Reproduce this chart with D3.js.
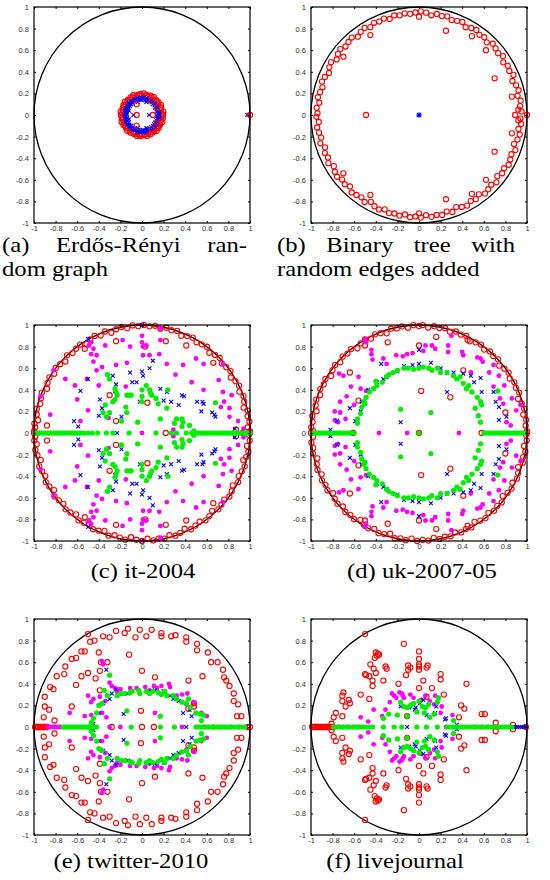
<!DOCTYPE html>
<html>
<head>
<meta charset="utf-8">
<script src="https://cdnjs.cloudflare.com/ajax/libs/d3/7.8.5/d3.min.js"></script>
<style>
  body { margin: 0; background: #fff; }
  svg { display: block; }
  .tick text { font-family: "Liberation Sans", Arial, sans-serif; font-size: 7.5px; fill: #333; }
  .cap { font-family: "Liberation Serif", "DejaVu Serif", serif; font-size: 22px; fill: #000; }
</style>
</head>
<body>
<svg id="fig" width="550" height="880"></svg>
<script>
var ticks = [-1, -0.8, -0.6, -0.4, -0.2, 0, 0.2, 0.4, 0.6, 0.8, 1];
var tickLabels = ['-1', '-0.8', '-0.6', '-0.4', '-0.2', '0', '0.2', '0.4', '0.6', '0.8', '1'];

// (a) Erdos-Renyi
var aRedRing = [[0,.195],[9,.2],[19,.19],[28,.2],[38,.195],[47,.19],[57,.2],[66,.195],[76,.19],[85,.2],[95,.195],[104,.19],[114,.2],[123,.195],[133,.19],[142,.2],[152,.195],[161,.19],[171,.2],[180,.195],[189,.19],[199,.2],[208,.195],[218,.19],[227,.2],[237,.195],[246,.19],[256,.2],[265,.195],[275,.19],[284,.2],[294,.195],[303,.19],[313,.2],[322,.195],[332,.19],[341,.2],[351,.195],
  [4,.185],[14,.18],[23,.185],[33,.18],[42,.185],[52,.18],[61,.185],[71,.18],[80,.185],[90,.18],[99,.185],[109,.18],[118,.185],[128,.18],[137,.185],[147,.18],[156,.185],[166,.18],[175,.185],[185,.18],[194,.185],[204,.18],[213,.185],[223,.18],[232,.185],[242,.18],[251,.185],[261,.18],[270,.185],[280,.18],[289,.185],[299,.18],[308,.185],[318,.18],[327,.185],[337,.18],[346,.185],[356,.18]];
var aBlueRing = [[0,.16],[8,.165],[16,.155],[25,.16],[33,.165],[41,.155],[49,.16],[57,.165],[66,.155],[74,.16],[82,.165],[90,.16],[98,.155],[106,.165],[115,.16],[123,.155],[131,.165],[139,.16],[147,.155],[156,.165],[164,.16],[172,.155],[180,.165],[188,.16],[196,.155],[205,.165],[213,.16],[221,.155],[229,.165],[237,.16],[246,.155],[254,.165],[262,.16],[270,.155],[278,.165],[286,.16],[295,.155],[303,.165],[311,.16],[319,.155],[327,.165],[336,.16],[344,.155],[352,.165],
  [4,.145],[12,.14],[21,.145],[29,.14],[37,.145],[45,.14],[53,.145],[61,.14],[70,.145],[78,.14],[86,.145],[94,.14],[102,.145],[110,.14],[119,.145],[127,.14],[135,.145],[143,.14],[151,.145],[160,.14],[168,.145],[176,.14],[184,.145],[192,.14],[200,.145],[209,.14],[217,.145],[225,.14],[233,.145],[241,.14],[250,.145],[258,.14],[266,.145],[274,.14],[282,.145],[290,.14],[299,.145],[307,.14],[315,.145],[323,.14],[331,.145],[340,.14],[348,.145],[356,.14]];
var aRed = [[-0.05,0.10],[-0.05,0],[-0.05,-0.10],[0.10,0],[0.09,0.13],[0.14,0.07],[0.14,-0.07],[0.09,-0.13],[1.0,0]];
var aBlue = [[-0.10,0.10],[-0.08,0],[-0.10,-0.10],[0.065,0],[0.975,0],[-0.12,0.04],[-0.12,-0.04],[0.12,0.07],[0.12,-0.07],[0.04,0.12],[0.04,-0.12],[-0.04,0.12],[-0.04,-0.12]];

// (b) binary tree
var bRedRing = [[2,.95],[5,.94],[8,.95],[11,.93],[14,.95],[17,.94],[20,.92],[23,.95],[26,.93],[29,.94],[32,.92],[35,.95],[38,.93],[41,.94],[44,.95],[47,.92],[50,.94],[53,.93],[56,.95],[59,.94],[62,.92],[65,.95],[68,.94],[71,.93],[74,.95],[77,.94],[80,.95],[83,.93],[86,.95],[89,.96],[92,.95],[95,.94],[98,.95],[101,.94],[104,.95],[107,.93],[110,.95],[113,.94],[116,.95],[119,.93],[122,.95],[125,.94],[128,.92],[131,.95],[134,.94],[137,.93],[140,.95],[143,.94],[146,.92],[149,.95],[152,.94],[155,.92],[158,.94],[161,.95],[164,.93],[167,.94],[170,.95],[173,.93],[176,.95],[179,.94],
  [-2,.94],[-5,.95],[-8,.93],[-11,.95],[-14,.94],[-17,.92],[-20,.95],[-23,.93],[-26,.94],[-29,.95],[-32,.93],[-35,.94],[-38,.92],[-41,.95],[-44,.93],[-47,.94],[-50,.95],[-53,.92],[-56,.94],[-59,.93],[-62,.95],[-65,.94],[-68,.92],[-71,.95],[-74,.93],[-77,.95],[-80,.94],[-83,.95],[-86,.93],[-89,.95],[-92,.94],[-95,.95],[-98,.93],[-101,.95],[-104,.94],[-107,.95],[-110,.93],[-113,.95],[-116,.94],[-119,.92],[-122,.95],[-125,.93],[-128,.94],[-131,.95],[-134,.92],[-137,.94],[-140,.93],[-143,.95],[-146,.94],[-149,.92],[-152,.95],[-155,.93],[-158,.94],[-161,.92],[-164,.95],[-167,.93],[-170,.94],[-173,.95],[-176,.93],[-179,.95]];
var bRed = [[-0.49,0],[0.25,0.78],[0.25,-0.78],[-0.45,0.74],[-0.45,-0.74],[0.49,0.73],[0.49,-0.73],[0.62,0.60],[0.62,-0.60],[0.70,0.34],[0.70,-0.34],[0.86,0.17],[0.86,-0.17],[0.89,0],[-0.70,0.54],[-0.70,-0.54],[0,0.91],[0,-0.91],[1.0,0],[0.92,0.05],[0.92,-0.05]];
var bBlue = [[0,0]];

// (c) it-2004
var cRedRing = [[1,1],[3,.98],[6,1],[9,.99],[12,1],[14,.97],[17,.99],[20,1],[23,.98],[26,1],[29,.99],[32,.97],[35,1],[38,.99],[41,.98],[44,1],[47,.99],[50,.97],[53,1],[56,.99],[59,.98],[62,1],[65,.99],[68,.97],[71,1],[74,.99],[77,1],[80,.98],[83,1],[86,.99],[89,1],[92,.99],[95,1],[98,.98],[101,1],[104,.99],[107,.97],[110,1],[113,.98],[116,1],[119,.99],[122,.97],[125,1],[128,.99],[131,.98],[134,1],[137,.97],[140,.99],[143,1],[146,.98],[149,1],[152,.99],[155,.97],[158,1],[161,.99],[164,.98],[167,1],[170,.99],[173,.97],[175,1],[177,.99],[179,1],
  [-1,.99],[-4,1],[-7,.98],[-10,1],[-13,.99],[-15,.97],[-18,1],[-21,.99],[-24,.98],[-27,1],[-30,.97],[-33,.99],[-36,1],[-39,.98],[-42,.99],[-45,1],[-48,.97],[-51,.99],[-54,1],[-57,.98],[-60,.99],[-63,1],[-66,.97],[-69,.99],[-72,1],[-75,.98],[-78,1],[-81,.99],[-84,1],[-87,.98],[-90,1],[-93,.99],[-96,.97],[-99,1],[-102,.99],[-105,.98],[-108,1],[-111,.97],[-114,.99],[-117,1],[-120,.98],[-123,.99],[-126,1],[-129,.97],[-132,.99],[-135,1],[-138,.98],[-141,.99],[-144,1],[-147,.97],[-150,.99],[-153,1],[-156,.98],[-159,.99],[-162,1],[-165,.97],[-168,.99],[-171,1],[-174,.98],[-176,1],[-178,.99]];
var cRed = [[-0.24,0.85],[0.22,0.85],[0.41,0.81],[0.66,0.65],[-0.30,0.35],[0.05,0.28],[-0.24,0.11],[-0.88,0.07],[0.87,0.03],[-0.53,0.78],[0.03,0.80],
  [-0.24,-0.85],[0.22,-0.85],[0.41,-0.81],[0.66,-0.65],[-0.30,-0.35],[0.05,-0.28],[-0.24,-0.11],[-0.88,-0.07],[0.87,-0.03],[-0.53,-0.78],[0.03,-0.80]];
var cRedAxis = [-1, 0.22, 0.93, 1];
var cMag = [[-0.47,0.84],[-0.49,0.81],[-0.45,0.78],[-0.42,0.72],[-0.47,0.73],[-0.34,0.81],[-0.18,0.86],[-0.11,0.80],[0,0.90],[0,0.84],[0.01,0.80],[0.04,0.81],[0.01,0.72],[0.07,0.72],[0.16,0.73],[0.17,0.86],[0.23,0.64],[0.38,0.63],[0.50,0.69],[0.57,0.64],[-0.24,0.63],[-0.37,0.61],[-0.42,0.58],[-0.14,0.65],[-0.45,0.66],[-0.71,0.50],[-0.51,0.50],[-0.62,0.44],[-0.40,0.44],[-0.15,0.43],[0.31,0.54],[0.46,0.47],[0.57,0.40],[0.71,0.49],[0.75,0.38],[0.83,0.35],[0.76,0.29],[-0.60,0.31],[0.73,0.24],[0.81,0.23],[0.81,0.15],[0.89,0.11],[-0.50,0.21],[-0.85,0.17],[-0.31,0.14],[0.29,0.03],[-0.57,0.11],[-0.94,0.34],[0.17,0.97],[0.75,0.64],[-0.82,0.58],[0.94,0.04],
  [-0.47,-0.84],[-0.49,-0.81],[-0.45,-0.78],[-0.42,-0.72],[-0.47,-0.73],[-0.34,-0.81],[-0.18,-0.86],[-0.11,-0.80],[0,-0.90],[0,-0.84],[0.01,-0.80],[0.04,-0.81],[0.01,-0.72],[0.07,-0.72],[0.16,-0.73],[0.17,-0.86],[0.23,-0.64],[0.38,-0.63],[0.50,-0.69],[0.57,-0.64],[-0.24,-0.63],[-0.37,-0.61],[-0.42,-0.58],[-0.14,-0.65],[-0.45,-0.66],[-0.71,-0.50],[-0.51,-0.50],[-0.62,-0.44],[-0.40,-0.44],[-0.15,-0.43],[0.31,-0.54],[0.46,-0.47],[0.57,-0.40],[0.71,-0.49],[0.75,-0.38],[0.83,-0.35],[0.76,-0.29],[-0.60,-0.31],[0.73,-0.24],[0.81,-0.23],[0.81,-0.15],[0.89,-0.11],[-0.50,-0.21],[-0.85,-0.17],[-0.31,-0.14],[0.29,-0.03],[-0.57,-0.11],[-0.94,-0.34],[0.17,-0.97],[0.75,-0.64],[-0.82,-0.58],[0.94,-0.04]];
var cMagAxis = [-0.95, 0];
var cBlue = [[0,1.0],[-0.50,0.87],[-0.50,0.50],[-0.57,0.39],[-0.63,0.11],[-0.59,0.06],[-0.39,0.31],[-0.37,0.23],[-0.40,0.16],[-0.27,0.53],[-0.24,0.45],[-0.25,0.39],[-0.11,0.56],[-0.09,0.47],[-0.05,0.47],[0,0.57],[0.01,0.53],[0.07,0.60],[0.10,0.67],[0.17,0.41],[0.23,0.38],[0.20,0.30],[0.27,0.29],[0.34,0.26],[0.37,0.35],[0.39,0.34],[0.51,0.29],[0.56,0.29],[0.57,0.27],[0.55,0.20],[0.65,0.19],[0.67,0.17],[0.68,0.15],[-0.19,0.15],[-0.02,0.29],[0.86,0.04],
  [0,-1.0],[-0.50,-0.87],[-0.50,-0.50],[-0.57,-0.39],[-0.63,-0.11],[-0.59,-0.06],[-0.39,-0.31],[-0.37,-0.23],[-0.40,-0.16],[-0.27,-0.53],[-0.24,-0.45],[-0.25,-0.39],[-0.11,-0.56],[-0.09,-0.47],[-0.05,-0.47],[0,-0.57],[0.01,-0.53],[0.07,-0.60],[0.10,-0.67],[0.17,-0.41],[0.23,-0.38],[0.20,-0.30],[0.27,-0.29],[0.34,-0.26],[0.37,-0.35],[0.39,-0.34],[0.51,-0.29],[0.56,-0.29],[0.57,-0.27],[0.55,-0.20],[0.65,-0.19],[0.67,-0.17],[0.68,-0.15],[-0.19,-0.15],[-0.02,-0.29],[0.86,-0.04]];
var cBlueAxis = [-0.96, -0.23];
var cGreen = [[-0.32,0.54],[-0.30,0.50],[-0.25,0.41],[-0.24,0.38],[-0.23,0.35],[-0.25,0.31],[-0.27,0.29],[-0.14,0.35],[-0.12,0.35],[-0.10,0.35],[0,0.40],[0,0.34],[0,0.29],[0.07,0.40],[0.08,0.37],[0.09,0.35],[0.13,0.32],[0.15,0.27],[0.04,0.44],[-0.34,0.26],[-0.36,0.19],[-0.30,0.19],[-0.33,0.15],[-0.15,0.24],[-0.14,0.19],[-0.19,0.11],[-0.04,0.10],[0.23,0.23],[0.24,0.40],[0.37,0.13],[0.38,0.10],[0.30,0.09],[0.48,0.02],[0.68,0.28],[0.17,0.13],[0.32,0.13],[0.44,0.07],[0.37,0.06],
  [-0.32,-0.54],[-0.30,-0.50],[-0.25,-0.41],[-0.24,-0.38],[-0.23,-0.35],[-0.25,-0.31],[-0.27,-0.29],[-0.14,-0.35],[-0.12,-0.35],[-0.10,-0.35],[0,-0.40],[0,-0.34],[0,-0.29],[0.07,-0.40],[0.08,-0.37],[0.09,-0.35],[0.13,-0.32],[0.15,-0.27],[0.04,-0.44],[-0.34,-0.26],[-0.36,-0.19],[-0.30,-0.19],[-0.33,-0.15],[-0.15,-0.24],[-0.14,-0.19],[-0.19,-0.11],[-0.04,-0.10],[0.23,-0.23],[0.24,-0.40],[0.37,-0.13],[0.38,-0.10],[0.30,-0.09],[0.48,-0.02],[0.68,-0.28],[0.17,-0.13],[0.32,-0.13],[0.44,-0.07],[0.37,-0.06]];
var cGreenAxis = [-0.99,-0.97,-0.95,-0.93,-0.91,-0.89,-0.87,-0.85,-0.83,-0.81,-0.79,-0.77,-0.75,-0.73,-0.71,-0.69,-0.67,-0.65,-0.63,-0.61,-0.59,-0.57,-0.54,-0.50,-0.46,-0.41,-0.33,-0.27,-0.12,0.13,0.27,0.32,0.41,0.46,0.50,0.52,0.54,0.56,0.58,0.60,0.62,0.64,0.66,0.68,0.70,0.72,0.74,0.76,0.78,0.80,0.82,0.84,0.86,0.88,0.90,0.92,0.94,0.96,0.98,1.0];

// (d) uk-2007-05
var dRedRing = [[1,1],[4,.99],[7,1],[10,.98],[13,1],[16,.99],[19,.97],[22,1],[25,.99],[28,1],[31,.98],[34,1],[37,.99],[40,.97],[43,1],[46,.99],[49,1],[52,.98],[55,1],[58,.99],[61,.97],[64,1],[67,.99],[70,1],[73,.98],[76,1],[79,.99],[82,1],[85,.98],[88,1],[90,.99],[93,1],[96,.98],[99,1],[102,.99],[105,1],[108,.97],[111,.99],[114,1],[117,.98],[120,1],[123,.99],[126,.97],[129,1],[132,.99],[135,1],[138,.98],[141,1],[144,.99],[147,.97],[150,1],[153,.99],[156,1],[159,.98],[162,1],[165,.99],[168,.97],[171,1],[174,.99],[177,1],[179,.98],
  [-1,.99],[-4,1],[-7,.98],[-10,1],[-13,.99],[-16,1],[-19,.97],[-22,.99],[-25,1],[-28,.98],[-31,1],[-34,.99],[-37,.97],[-40,1],[-43,.99],[-46,1],[-49,.98],[-52,1],[-55,.99],[-58,.97],[-61,1],[-64,.99],[-67,1],[-70,.98],[-73,1],[-76,.99],[-79,1],[-82,.98],[-85,1],[-88,.99],[-91,1],[-94,.98],[-97,1],[-100,.99],[-103,1],[-106,.97],[-109,.99],[-112,1],[-115,.98],[-118,1],[-121,.99],[-124,.97],[-127,1],[-130,.99],[-133,1],[-136,.98],[-139,1],[-142,.99],[-145,.97],[-148,1],[-151,.99],[-154,1],[-157,.98],[-160,1],[-163,.99],[-166,.97],[-169,1],[-172,.99],[-175,1],[-178,.98]];
var dRed = [[-0.64,0.56],[-0.29,0.84],[-0.50,0.81],[0,0.81],[0.16,0.89],[0.45,0.86],[0.02,0.39],[0.29,0.33],[0.41,0.58],[-0.56,0.30],[0.80,0.19],
  [-0.64,-0.56],[-0.29,-0.84],[-0.50,-0.81],[0,-0.81],[0.16,-0.89],[0.45,-0.86],[0.02,-0.39],[0.29,-0.33],[0.41,-0.58],[-0.56,-0.30],[0.80,-0.19]];
var dRedAxis = [-1, -0.61, 0, 0.58, 1];
var dMag = [[-0.50,0.87],[-0.49,0.84],[-0.44,0.77],[-0.44,0.73],[-0.43,0.68],[-0.21,0.72],[-0.15,0.71],[-0.11,0.73],[-0.06,0.74],[0.04,0.76],[0.06,0.81],[0.12,0.81],[0.15,0.78],[0.27,0.81],[0.30,0.90],[0.27,0.75],[0.40,0.75],[0.41,0.72],[0.54,0.70],[0.57,0.69],[0.59,0.66],[0.69,0.63],[-0.30,0.64],[-0.33,0.69],[-0.74,0.55],[-0.70,0.53],[-0.56,0.52],[-0.63,0.43],[-0.54,0.41],[-0.49,0.39],[-0.67,0.34],[-0.73,0.29],[-0.60,0.26],[-0.78,0.20],[-0.73,0.19],[-0.68,0.13],[-0.78,0.12],[-0.75,0.10],[0.48,0.56],[0.65,0.56],[0.74,0.53],[0.79,0.44],[0.69,0.43],[0.75,0.32],[0.86,0.32],[0.78,0.27],[0.90,0.21],[0.94,0.26],[0.81,0.10],[0.85,0.07],
  [-0.50,-0.87],[-0.49,-0.84],[-0.44,-0.77],[-0.44,-0.73],[-0.43,-0.68],[-0.21,-0.72],[-0.15,-0.71],[-0.11,-0.73],[-0.06,-0.74],[0.04,-0.76],[0.06,-0.81],[0.12,-0.81],[0.15,-0.78],[0.27,-0.81],[0.30,-0.90],[0.27,-0.75],[0.40,-0.75],[0.41,-0.72],[0.54,-0.70],[0.57,-0.69],[0.59,-0.66],[0.69,-0.63],[-0.30,-0.64],[-0.33,-0.69],[-0.74,-0.55],[-0.70,-0.53],[-0.56,-0.52],[-0.63,-0.43],[-0.54,-0.41],[-0.49,-0.39],[-0.67,-0.34],[-0.73,-0.29],[-0.60,-0.26],[-0.78,-0.20],[-0.73,-0.19],[-0.68,-0.13],[-0.78,-0.12],[-0.75,-0.10],[0.48,-0.56],[0.65,-0.56],[0.74,-0.53],[0.79,-0.44],[0.69,-0.43],[0.75,-0.32],[0.86,-0.32],[0.78,-0.27],[0.90,-0.21],[0.94,-0.26],[0.81,-0.10],[0.85,-0.07]];
var dMagAxis = [-0.37, -0.11, 0.37];
var dBlue = [[-0.82,0.03],[-0.76,0.11],[-0.64,0.23],[-0.59,0.11],[-0.54,0.20],[-0.53,0.29],[-0.47,0.40],[-0.39,0.47],[-0.33,0.50],[-0.30,0.52],[-0.35,0.64],[-0.20,0.57],[-0.14,0.62],[-0.06,0.63],[0,0.64],[0.11,0.65],[0,0.77],[0.20,0.60],[0.26,0.56],[0.32,0.56],[0.41,0.55],[0.48,0.53],[0.57,0.51],[0.51,0.47],[0.26,0.38],[0.58,0.38],[0.69,0.38],[0.71,0.29],[0.74,0.24],[0.74,0.12],[0.81,0.15],[-0.17,0.10],
  [-0.82,-0.03],[-0.76,-0.11],[-0.64,-0.23],[-0.59,-0.11],[-0.54,-0.20],[-0.53,-0.29],[-0.47,-0.40],[-0.39,-0.47],[-0.33,-0.50],[-0.30,-0.52],[-0.35,-0.64],[-0.20,-0.57],[-0.14,-0.62],[-0.06,-0.63],[0,-0.64],[0.11,-0.65],[0,-0.77],[0.20,-0.60],[0.26,-0.56],[0.32,-0.56],[0.41,-0.55],[0.48,-0.53],[0.57,-0.51],[0.51,-0.47],[0.26,-0.38],[0.58,-0.38],[0.69,-0.38],[0.71,-0.29],[0.74,-0.24],[0.74,-0.12],[0.81,-0.15],[-0.17,-0.10]];
var dGreen = [[-0.57,0.09],[-0.57,0.13],[-0.54,0.18],[-0.53,0.24],[-0.51,0.29],[-0.49,0.33],[-0.46,0.38],[-0.42,0.41],[-0.39,0.44],[-0.34,0.47],[-0.30,0.52],[-0.24,0.56],[-0.20,0.58],[-0.14,0.60],[-0.10,0.60],[-0.05,0.59],[0,0.60],[0.04,0.61],[0.09,0.60],[0.12,0.58],[0.17,0.60],[0.20,0.56],[0.26,0.56],[0.32,0.53],[0.38,0.52],[0.41,0.46],[0.44,0.41],[0.49,0.38],[0.54,0.33],[0.57,0.29],[0.58,0.26],[0.52,0.23],[0.55,0.16],[0.57,0.10],[-0.17,0.22],[0.11,0.19],[0.73,0.39],[-0.40,0.48],[-0.28,0.54],[0.35,0.50],[0.46,0.44],[-0.50,0.27],
  [-0.57,-0.09],[-0.57,-0.13],[-0.54,-0.18],[-0.53,-0.24],[-0.51,-0.29],[-0.49,-0.33],[-0.46,-0.38],[-0.42,-0.41],[-0.39,-0.44],[-0.34,-0.47],[-0.30,-0.52],[-0.24,-0.56],[-0.20,-0.58],[-0.14,-0.60],[-0.10,-0.60],[-0.05,-0.59],[0,-0.60],[0.04,-0.61],[0.09,-0.60],[0.12,-0.58],[0.17,-0.60],[0.20,-0.56],[0.26,-0.56],[0.32,-0.53],[0.38,-0.52],[0.41,-0.46],[0.44,-0.41],[0.49,-0.38],[0.54,-0.33],[0.57,-0.29],[0.58,-0.26],[0.52,-0.23],[0.55,-0.16],[0.57,-0.10],[-0.17,-0.22],[0.11,-0.19],[0.73,-0.39],[-0.40,-0.48],[-0.28,-0.54],[0.35,-0.50],[0.46,-0.44],[-0.50,-0.27]];
var dGreenAxis = [-0.99,-0.97,-0.95,-0.93,-0.91,-0.89,-0.87,-0.85,-0.83,-0.81,-0.79,-0.77,-0.75,-0.73,-0.71,-0.69,-0.67,-0.65,-0.63,-0.60,0,0.60,0.62,0.64,0.66,0.68,0.70,0.72,0.74,0.76,0.78,0.80,0.82,0.84,0.86,0.88,0.90,0.92,0.94,0.96,0.98];

// (e) twitter-2010
var eRed = [[-0.50,0.86],[-0.36,0.84],[-0.30,0.83],[-0.24,0.89],[-0.16,0.87],[-0.13,0.91],[-0.06,0.83],[-0.02,0.90],[0.04,0.84],[0.09,0.90],[0.18,0.87],[0.18,0.84],[0.27,0.84],[0.31,0.85],[0.41,0.83],[0.41,0.79],[0.51,0.77],[0.51,0.71],[0.61,0.69],[0.64,0.60],[0.70,0.60],[0.75,0.53],[0.76,0.46],[0.78,0.43],[0.81,0.38],[0.85,0.31],[0.85,0.24],[0.89,0.21],[0.88,0.10],[0.92,0.10],[0.56,0.47],[0.43,0.43],[0.12,0.46],[0,0.52],[-0.12,0.67],[-0.40,0.69],[-0.44,0.80],[-0.48,0.79],[-0.56,0.70],[-0.53,0.70],[-0.65,0.63],[-0.61,0.64],[-0.71,0.56],[-0.72,0.49],[-0.79,0.47],[-0.56,0.47],[-0.50,0.50],[-0.43,0.45],[-0.39,0.52],[-0.38,0.60],[-0.32,0.60],[-0.61,0.39],[-0.85,0.37],[-0.82,0.35],[-0.90,0.28],[-0.90,0.19],[-0.86,0.16],[-0.65,0.19],[-0.91,0.09],[-0.81,0.06],[-0.39,0.34],[-0.01,0.15],[0.48,0.22],[0.48,0.19],[0.43,0.17],
  [-0.50,-0.86],[-0.36,-0.84],[-0.30,-0.83],[-0.24,-0.89],[-0.16,-0.87],[-0.13,-0.91],[-0.06,-0.83],[-0.02,-0.90],[0.04,-0.84],[0.09,-0.90],[0.18,-0.87],[0.18,-0.84],[0.27,-0.84],[0.31,-0.85],[0.41,-0.83],[0.41,-0.79],[0.51,-0.77],[0.51,-0.71],[0.61,-0.69],[0.64,-0.60],[0.70,-0.60],[0.75,-0.53],[0.76,-0.46],[0.78,-0.43],[0.81,-0.38],[0.85,-0.31],[0.85,-0.24],[0.89,-0.21],[0.88,-0.10],[0.92,-0.10],[0.56,-0.47],[0.43,-0.43],[0.12,-0.46],[0,-0.52],[-0.12,-0.67],[-0.40,-0.69],[-0.44,-0.80],[-0.48,-0.79],[-0.56,-0.70],[-0.53,-0.70],[-0.65,-0.63],[-0.61,-0.64],[-0.71,-0.56],[-0.72,-0.49],[-0.79,-0.47],[-0.56,-0.47],[-0.50,-0.50],[-0.43,-0.45],[-0.39,-0.52],[-0.38,-0.60],[-0.32,-0.60],[-0.61,-0.39],[-0.85,-0.37],[-0.82,-0.35],[-0.90,-0.28],[-0.90,-0.19],[-0.86,-0.16],[-0.65,-0.19],[-0.91,-0.09],[-0.81,-0.06],[-0.39,-0.34],[-0.01,-0.15],[0.48,-0.22],[0.48,-0.19],[0.43,-0.17]];
var eRedAxis = [-0.99,-0.98,-0.97,-0.96,-0.95,-0.94,-0.93,-0.92,-0.91,-0.90,-0.89,-0.88,-0.28,0,0.11,0.98,1.0];
var eMag = [[-0.37,0.61],[-0.36,0.58],[-0.30,0.41],[-0.28,0.38],[-0.25,0.36],[-0.23,0.33],[-0.50,0.29],[-0.47,0.23],[-0.39,0.28],[-0.38,0.21],[-0.34,0.24],[-0.67,0.13],[-0.53,0.10],[-0.47,0.11],[-0.37,0.13],[-0.33,0.09],[-0.11,0.36],[-0.05,0.36],[0.03,0.37],[0.11,0.38],[0.14,0.36],[0.18,0.38],[0.25,0.40],[0.26,0.37],[0.37,0.30],[0.32,0.29],[0.41,0.21],[0.48,0.23],[0.55,0.13],[0.60,0.10],[0.12,0.13],[-0.45,0.26],[-0.20,0.35],[0.07,0.34],[0.42,0.31],
  [-0.37,-0.61],[-0.36,-0.58],[-0.30,-0.41],[-0.28,-0.38],[-0.25,-0.36],[-0.23,-0.33],[-0.50,-0.29],[-0.47,-0.23],[-0.39,-0.28],[-0.38,-0.21],[-0.34,-0.24],[-0.67,-0.13],[-0.53,-0.10],[-0.47,-0.11],[-0.37,-0.13],[-0.33,-0.09],[-0.11,-0.36],[-0.05,-0.36],[0.03,-0.37],[0.11,-0.38],[0.14,-0.36],[0.18,-0.38],[0.25,-0.40],[0.26,-0.37],[0.37,-0.30],[0.32,-0.29],[0.41,-0.21],[0.48,-0.23],[0.55,-0.13],[0.60,-0.10],[0.12,-0.13],[-0.45,-0.26],[-0.20,-0.35],[0.07,-0.34],[0.42,-0.31]];
var eMagAxis = [-0.87,-0.85,-0.83,-0.81,-0.79,-0.77,-0.75,-0.30,-0.20,0.37,0.58,0.66,0.74,0.82,0.90];
var eBlue = [[-0.33,0.53],[-0.24,0.35],[-0.30,0.26],[-0.36,0.22],[-0.40,0.13],[-0.45,0.03],[-0.13,0.31],[0.07,0.33],[0.20,0.33],[0.26,0.29],[0.29,0.26],[0.34,0.24],[0.44,0.16],[0.46,0.10],[0.38,0.13],[-0.17,0.12],[-0.28,0.31],[0.12,0.34],
  [-0.33,-0.53],[-0.24,-0.35],[-0.30,-0.26],[-0.36,-0.22],[-0.40,-0.13],[-0.45,-0.03],[-0.13,-0.31],[0.07,-0.33],[0.20,-0.33],[0.26,-0.29],[0.29,-0.26],[0.34,-0.24],[0.44,-0.16],[0.46,-0.10],[0.38,-0.13],[-0.17,-0.12],[-0.28,-0.31],[0.12,-0.34]];
var eBlueAxis = [-0.44, 0.41, 0.64, 0.72, 0.84, 0.88, 0.93, 0.96];
var eGreen = [[-0.30,0.48],[-0.35,0.34],[-0.32,0.29],[-0.37,0.22],[-0.40,0.20],[-0.42,0.13],[-0.45,0.08],[-0.47,0.04],[-0.23,0.29],[-0.19,0.31],[-0.16,0.31],[-0.11,0.32],[-0.09,0.33],[-0.03,0.34],[-0.02,0.31],[0.04,0.33],[0.07,0.31],[0.10,0.33],[0.15,0.32],[0.18,0.30],[0.21,0.33],[0.23,0.29],[0.29,0.29],[0.32,0.26],[0.37,0.23],[0.41,0.22],[0.50,0.13],[0.54,0.12],[0.57,0.11],[0.55,0.06],[0.17,0.10],[-0.14,0.15],[0.45,0.18],[0.43,0.26],
  [-0.30,-0.48],[-0.35,-0.34],[-0.32,-0.29],[-0.37,-0.22],[-0.40,-0.20],[-0.42,-0.13],[-0.45,-0.08],[-0.47,-0.04],[-0.23,-0.29],[-0.19,-0.31],[-0.16,-0.31],[-0.11,-0.32],[-0.09,-0.33],[-0.03,-0.34],[-0.02,-0.31],[0.04,-0.33],[0.07,-0.31],[0.10,-0.33],[0.15,-0.32],[0.18,-0.30],[0.21,-0.33],[0.23,-0.29],[0.29,-0.29],[0.32,-0.26],[0.37,-0.23],[0.41,-0.22],[0.50,-0.13],[0.54,-0.12],[0.57,-0.11],[0.55,-0.06],[0.17,-0.10],[-0.14,-0.15],[0.45,-0.18],[0.43,-0.26]];
var eGreenAxis = [-0.73,-0.71,-0.69,-0.67,-0.65,-0.63,-0.61,-0.59,-0.57,-0.55,-0.53,-0.51,-0.49,-0.47,-0.45,-0.42,-0.10,0.17,0.30,0.50,0.53,0.56,0.60,0.62,0.65,0.67,0.69,0.71,0.73,0.76,0.78,0.80,0.83,0.86,0.89,0.92,0.95];

// (f) livejournal
var fRed = [[-0.50,0.86],[-0.14,0.77],[-0.40,0.69],[-0.39,0.66],[-0.41,0.64],[-0.37,0.67],[-0.38,0.68],[-0.45,0.58],[-0.42,0.54],[-0.40,0.50],[-0.31,0.56],[-0.30,0.54],[-0.49,0.48],[-0.46,0.47],[-0.50,0.49],[-0.43,0.43],[-0.43,0.38],[-0.33,0.43],[-0.19,0.40],[-0.12,0.48],[-0.10,0.57],[-0.10,0.53],[-0.08,0.55],[0,0.70],[0,0.63],[0,0.58],[0,0.56],[0,0.53],[0.04,0.43],[0,0.36],[0.07,0.55],[0.08,0.57],[0.20,0.49],[0.20,0.44],[0.23,0.30],[0.12,0.36],[0.07,0.28],[0.44,0.40],[-0.54,0.30],[-0.70,0.32],[-0.71,0.29],[-0.71,0.24],[-0.65,0.25],[-0.64,0.22],[-0.68,0.19],[-0.46,0.26],[-0.77,0.13],[-0.79,0.09],[-0.71,0.10],[-0.81,0.03],[0.39,0.20],[0.42,0.17],[0.37,0.09],[0.58,0.12],[0.61,0.12],[0.71,0.04],[0.87,0.02],[-0.11,0.10],
  [-0.50,-0.86],[-0.14,-0.77],[-0.40,-0.69],[-0.39,-0.66],[-0.41,-0.64],[-0.37,-0.67],[-0.38,-0.68],[-0.45,-0.58],[-0.42,-0.54],[-0.40,-0.50],[-0.31,-0.56],[-0.30,-0.54],[-0.49,-0.48],[-0.46,-0.47],[-0.50,-0.49],[-0.43,-0.43],[-0.43,-0.38],[-0.33,-0.43],[-0.19,-0.40],[-0.12,-0.48],[-0.10,-0.57],[-0.10,-0.53],[-0.08,-0.55],[0,-0.70],[0,-0.63],[0,-0.58],[0,-0.56],[0,-0.53],[0.04,-0.43],[0,-0.36],[0.07,-0.55],[0.08,-0.57],[0.20,-0.49],[0.20,-0.44],[0.23,-0.30],[0.12,-0.36],[0.07,-0.28],[0.44,-0.40],[-0.54,-0.30],[-0.70,-0.32],[-0.71,-0.29],[-0.71,-0.24],[-0.65,-0.25],[-0.64,-0.22],[-0.68,-0.19],[-0.46,-0.26],[-0.77,-0.13],[-0.79,-0.09],[-0.71,-0.10],[-0.81,-0.03],[0.39,-0.20],[0.42,-0.17],[0.37,-0.09],[0.58,-0.12],[0.61,-0.12],[0.71,-0.04],[0.87,-0.02],[-0.11,-0.10]];
var fRedAxis = [-0.99,-0.98,-0.97,-0.96,-0.95,-0.94,-0.93,-0.92,-0.91,-0.90,-0.89,-0.88,-0.87,-0.86,-0.85,-0.84,-0.82,-0.80,0.99];
var fMag = [[-0.25,0.31],[-0.16,0.31],[-0.15,0.29],[-0.21,0.27],[-0.14,0.27],[-0.05,0.27],[-0.27,0.23],[-0.31,0.16],[-0.42,0.16],[-0.34,0.10],[-0.54,0.09],[-0.47,0.05],[0.06,0.29],[0.15,0.29],[0.14,0.21],[0.21,0.19],[0.20,0.13],[0.31,0.11],[-0.18,0.32],[-0.23,0.29],[0.02,0.25],[-0.08,0.30],[0.10,0.24],
  [-0.25,-0.31],[-0.16,-0.31],[-0.15,-0.29],[-0.21,-0.27],[-0.14,-0.27],[-0.05,-0.27],[-0.27,-0.23],[-0.31,-0.16],[-0.42,-0.16],[-0.34,-0.10],[-0.54,-0.09],[-0.47,-0.05],[0.06,-0.29],[0.15,-0.29],[0.14,-0.21],[0.21,-0.19],[0.20,-0.13],[0.31,-0.11],[-0.18,-0.32],[-0.23,-0.29],[0.02,-0.25],[-0.08,-0.30],[0.10,-0.24]];
var fMagAxis = [-0.78, -0.74, -0.70, -0.66, -0.60, -0.56, 0.25, 0.52, 0.58, 0.64, 0.70];
var fBlue = [[-0.17,0.19],[-0.09,0.18],[-0.03,0.18],[0.04,0.25],[0.07,0.11],[0.16,0.19],[0.25,0.08],[0.35,0.02],[-0.04,0.16],[0.01,0.22],[0.15,0.13],[0.24,0.07],
  [-0.17,-0.19],[-0.09,-0.18],[-0.03,-0.18],[0.04,-0.25],[0.07,-0.11],[0.16,-0.19],[0.25,-0.08],[0.35,-0.02],[-0.04,-0.16],[0.01,-0.22],[0.15,-0.13],[0.24,-0.07]];
var fBlueAxis = [-0.11, 0.34, 0.87, 0.89, 0.91, 0.93, 0.95, 0.97, 0.99];
var fGreen = [[-0.17,0.23],[-0.14,0.19],[-0.11,0.18],[-0.08,0.20],[-0.05,0.22],[0,0.24],[0.03,0.19],[0.06,0.18],[0.09,0.21],[0.14,0.12],[0.10,0.09],[-0.33,0.08],[-0.28,0.12],[-0.20,0.11],[-0.11,0.10],[0.17,0.23],[0.18,0.27],[0.32,0.06],[-0.02,0.14],[0.05,0.13],
  [-0.17,-0.23],[-0.14,-0.19],[-0.11,-0.18],[-0.08,-0.20],[-0.05,-0.22],[0,-0.24],[0.03,-0.19],[0.06,-0.18],[0.09,-0.21],[0.14,-0.12],[0.10,-0.09],[-0.33,-0.08],[-0.28,-0.12],[-0.20,-0.11],[-0.11,-0.10],[0.17,-0.23],[0.18,-0.27],[0.32,-0.06],[-0.02,-0.14],[0.05,-0.13]];
var fGreenAxis = [-0.79,-0.76,-0.73,-0.70,-0.67,-0.64,-0.61,-0.58,-0.55,-0.52,-0.49,-0.46,-0.43,-0.33,-0.23,-0.16,-0.02,0.07,0.17,0.26,0.29,0.32,0.35,0.38,0.41,0.44,0.47,0.50,0.53,0.56,0.59,0.62,0.65,0.68,0.71,0.74,0.77,0.80,0.83,0.86];

var captions = [
  {text: '(a) Erdős-Rényi ran-', x0: 2, x1: 247, y: 252},
  {text: 'dom graph', x0: 2, y: 276},
  {text: '(b) Binary tree with', x0: 277, x1: 515, y: 252},
  {text: 'random edges added', x0: 277, y: 276},
  {text: '(c) it-2004', cx: 143, y: 578},
  {text: '(d) uk-2007-05', cx: 422, y: 578},
  {text: '(e) twitter-2010', cx: 131, y: 868},
  {text: '(f) livejournal', cx: 395, y: 868}
];

var svg = d3.select('#fig');
var side = 216;
var x = d3.scaleLinear().domain([-1, 1]).range([0, side]);
var y = d3.scaleLinear().domain([-1, 1]).range([side, 0]);

var polar = function(list) {
  return (list || []).map(function(p) {
    var t = p[0] * Math.PI / 180;
    return [p[1] * Math.cos(t), p[1] * Math.sin(t)];
  });
};
var onAxis = function(list) {
  return (list || []).map(function(v) { return [v, 0]; });
};

var panels = [
  {left: 34, top: 7, red: polar(aRedRing), blue: polar(aBlueRing).concat(aBlue), redLate: aRed},
  {left: 311, top: 7, red: polar(bRedRing).concat(bRed), star: bBlue},
  {left: 34, top: 325, red: polar(cRedRing).concat(cRed, onAxis(cRedAxis)), mag: cMag.concat(onAxis(cMagAxis)),
    blue: cBlue.concat(onAxis(cBlueAxis)), green: cGreen.concat(onAxis(cGreenAxis))},
  {left: 311, top: 325, red: polar(dRedRing).concat(dRed, onAxis(dRedAxis)), mag: dMag.concat(onAxis(dMagAxis)),
    blue: dBlue, green: dGreen.concat(onAxis(dGreenAxis))},
  {left: 34, top: 619, red: eRed.concat(onAxis(eRedAxis)), mag: eMag.concat(onAxis(eMagAxis)),
    blue: eBlue.concat(onAxis(eBlueAxis)), green: eGreen.concat(onAxis(eGreenAxis))},
  {left: 311, top: 619, red: fRed.concat(onAxis(fRedAxis)), mag: fMag.concat(onAxis(fMagAxis)),
    blue: fBlue.concat(onAxis(fBlueAxis)), green: fGreen.concat(onAxis(fGreenAxis))}
];

var drawRed = function(g, pts) {
  g.append('g').selectAll('circle').data(pts || []).enter().append('circle')
    .attr('cx', function(d) { return x(d[0]); })
    .attr('cy', function(d) { return y(d[1]); })
    .attr('r', 2.6)
    .attr('fill', 'none')
    .attr('stroke', '#ff0000')
    .attr('stroke-width', 1.1);
};
var drawDots = function(g, pts, color, r) {
  g.append('g').selectAll('circle').data(pts || []).enter().append('circle')
    .attr('cx', function(d) { return x(d[0]); })
    .attr('cy', function(d) { return y(d[1]); })
    .attr('r', r)
    .attr('fill', color);
};
var drawCross = function(g, pts, s, star) {
  g.append('g').selectAll('path').data(pts || []).enter().append('path')
    .attr('d', function(d) {
      var cx = x(d[0]), cy = y(d[1]);
      var p = 'M' + (cx - s) + ',' + (cy - s) + 'L' + (cx + s) + ',' + (cy + s) +
              'M' + (cx - s) + ',' + (cy + s) + 'L' + (cx + s) + ',' + (cy - s);
      if (star) p += 'M' + cx + ',' + (cy - s * 1.3) + 'L' + cx + ',' + (cy + s * 1.3) +
                     'M' + (cx - s * 1.3) + ',' + cy + 'L' + (cx + s * 1.3) + ',' + cy;
      return p;
    })
    .attr('stroke', '#0000ff')
    .attr('stroke-width', 1.1)
    .attr('fill', 'none');
};

var fmt = function(d, i) { return tickLabels[i]; };

panels.forEach(function(p) {
  var g = svg.append('g').attr('transform', 'translate(' + p.left + ',' + p.top + ')');

  g.append('circle')
    .attr('cx', x(0)).attr('cy', y(0)).attr('r', x(1) - x(0))
    .attr('fill', 'none').attr('stroke', '#000').attr('stroke-width', 1.3);

  drawRed(g, p.red);
  drawDots(g, p.mag, '#ff00ff', 2.4);
  drawCross(g, p.blue, 1.9, false);
  drawDots(g, p.green, '#00ee00', 2.6);
  drawRed(g, p.redLate);
  drawCross(g, p.star, 2.2, true);

  g.append('g').attr('transform', 'translate(0,' + side + ')')
    .call(d3.axisBottom(x).tickValues(ticks).tickFormat(fmt).tickSizeInner(-2).tickSizeOuter(0).tickPadding(2.5));
  g.append('g')
    .call(d3.axisTop(x).tickValues(ticks).tickFormat('').tickSizeInner(-2).tickSizeOuter(0));
  g.append('g')
    .call(d3.axisLeft(y).tickValues(ticks).tickFormat(fmt).tickSizeInner(-2).tickSizeOuter(0).tickPadding(5));
  g.append('g').attr('transform', 'translate(' + side + ',0)')
    .call(d3.axisRight(y).tickValues(ticks).tickFormat('').tickSizeInner(-2).tickSizeOuter(0));
  g.selectAll('.domain').remove();

  g.append('rect')
    .attr('width', side).attr('height', side)
    .attr('fill', 'none').attr('stroke', '#000').attr('stroke-width', 1.2);
});

// captions: serif, a little wider than Liberation Serif to look like Computer Modern
var stretch = 1.12;
captions.forEach(function(c) {
  if (c.x1 !== undefined) {
    var words = c.text.split(' ');
    var els = [], total = 0;
    words.forEach(function(w) {
      var t = svg.append('text').attr('class', 'cap').attr('y', c.y).text(w);
      var len = t.node().getComputedTextLength() * stretch;
      t.attr('textLength', len).attr('lengthAdjust', 'spacingAndGlyphs');
      els.push([t, len]);
      total += len;
    });
    var gap = (c.x1 - c.x0 - total) / (words.length - 1);
    var pos = c.x0;
    els.forEach(function(e) {
      e[0].attr('x', pos);
      pos += e[1] + gap;
    });
  } else {
    var t = svg.append('text').attr('class', 'cap').attr('y', c.y).text(c.text);
    var len = t.node().getComputedTextLength() * stretch;
    var start = c.cx !== undefined ? c.cx - len / 2 : c.x0;
    t.attr('x', start).attr('textLength', len).attr('lengthAdjust', 'spacingAndGlyphs');
  }
});
</script>
</body>
</html>
